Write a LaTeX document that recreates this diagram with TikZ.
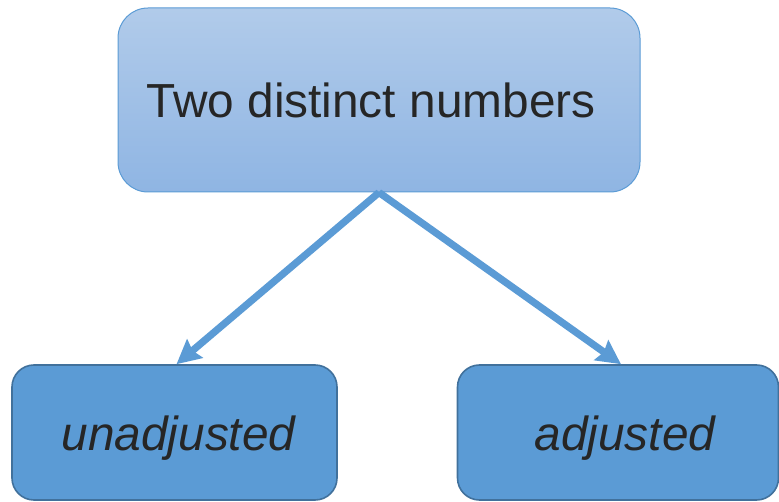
\documentclass[tikz,border=0pt]{standalone}
\usepackage{fontspec}
\setmainfont{Liberation Sans}
\usepackage{xcolor}
\usetikzlibrary{arrows.meta}

\definecolor{boxblue}{HTML}{5B9BD5}
\definecolor{boxedge}{HTML}{41719C}
\definecolor{lightTop}{HTML}{B1CBEA}
\definecolor{lightBottom}{HTML}{8FB5E3}
\definecolor{txtgray}{HTML}{262626}

\begin{document}
\begin{tikzpicture}[x=1pt,y=-1pt]
  \useasboundingbox (0,0) rectangle (779,502);
  \tikzstyle{TopStyle}=[draw=boxblue, line width=1pt, rounded corners=30pt,
    top color=lightTop, bottom color=lightBottom,
    minimum width=522pt, minimum height=184pt, text=txtgray,
    font=\fontsize{47.8}{57}\selectfont]
  \tikzstyle{LeafStyle}=[draw=boxedge, line width=1.6pt, rounded corners=22pt,
    fill=boxblue, minimum width=325pt, minimum height=135pt, text=txtgray,
    font=\fontsize{47.8}{57}\selectfont\itshape]
  \tikzstyle{EdgeStyle}=[draw=boxblue, line width=7.2pt,
    -{Stealth[length=24pt,width=24pt,inset=3pt]}]
  \node[TopStyle] (two) at (379,100) {\hspace*{-16pt}Two distinct numbers};
  \node[LeafStyle] (unadj) at (174.5,432.5)
    {\raisebox{-6pt}[\height][\depth]{unadjusted}\hspace*{-8pt}};
  \node[LeafStyle, minimum width=321pt] (adj) at (618,432.5)
    {\raisebox{-6pt}[\height][\depth]{adjusted}\hspace*{-14pt}};
  \draw[EdgeStyle] (two.south) -- ([xshift=2pt]unadj.north);
  \draw[EdgeStyle] (two.south) -- ([xshift=3pt]adj.north);
\end{tikzpicture}
\end{document}
